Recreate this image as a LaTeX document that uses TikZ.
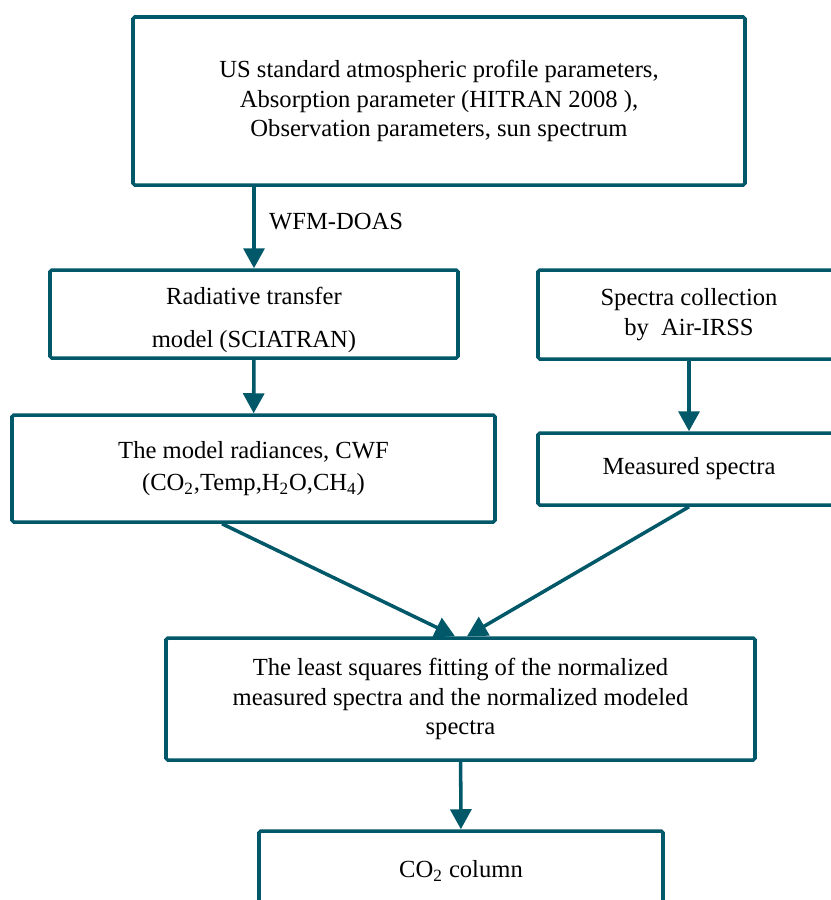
\documentclass[tikz,border=0pt]{standalone}
\usepackage{fontspec}
\setmainfont{Liberation Serif}
\usepackage{tikz}
\usetikzlibrary{calc,arrows.meta,positioning}
\definecolor{flowteal}{RGB}{0,88,104}
\tikzset{
    flow box/.style={
        draw=flowteal,line width=2pt,rounded corners=1pt,
        fill=white,align=center,inner sep=0pt,
        font=\fontsize{14}{17}\selectfont
    },
    flow arrow/.style={
        draw=flowteal,line width=2pt,
        -{Triangle[length=0.4cm,width=0.42cm]}
    }
}

\begin{document}
\begin{tikzpicture}
\useasboundingbox (0,0) rectangle (16.62,-18);
\node[flow box,minimum width=12.24cm,minimum height=3.36cm] (inputs) at (8.78,-2.02)
    {US standard atmospheric profile parameters,\\Absorption parameter (HITRAN 2008 ),\\Observation parameters, sun spectrum};
\node[flow box,minimum width=8.16cm,minimum height=1.76cm,text height=1.42cm,text depth=0.1cm] (rtm) at (5.08,-6.28)
    {Radiative transfer\\[0.25cm]model (SCIATRAN)};
\node[flow box,minimum width=6.04cm,minimum height=1.78cm] (collect) at (13.78,-6.29)
    {Spectra collection\\by~~Air-IRSS};
\node[flow box,minimum width=9.66cm,minimum height=2.14cm] (radiance) at (5.07,-9.37)
    {The model radiances, CWF\\[0.05cm](CO\textsubscript{2},Temp,H\textsubscript{2}O,CH\textsubscript{4})};
\node[flow box,minimum width=6.04cm,minimum height=1.44cm] (measured) at (13.78,-9.38)
    {Measured spectra};
\node[flow box,minimum width=11.78cm,minimum height=2.44cm] (fitting) at (9.21,-13.98)
    {The least squares fitting of the normalized\\measured spectra and the normalized modeled\\spectra};
\node[flow box,minimum width=8.08cm,minimum height=1.6cm] (column) at (9.22,-17.42)
    {CO\textsubscript{2} column};

\draw[flow arrow] (rtm.north |- inputs.south) -- (rtm.north)
    node[midway,right=0.15cm,yshift=0.12cm,font=\fontsize{14}{17}\selectfont] (wfm) {WFM-DOAS};
\draw[flow arrow] (rtm) -- (radiance);
\draw[flow arrow] (collect) -- (measured);
\draw[flow arrow] ([xshift=-0.63cm]radiance.south) -- ([xshift=-0.11cm]fitting.north);
\draw[flow arrow] (measured.south) -- ([xshift=0.13cm]fitting.north);
\draw[flow arrow] (fitting) -- (column);
\end{tikzpicture}
\end{document}
